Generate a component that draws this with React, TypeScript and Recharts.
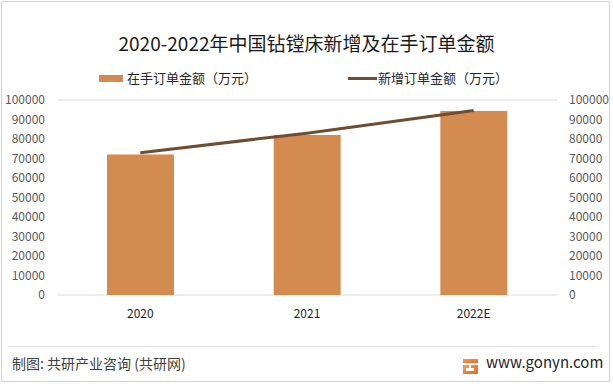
import { ComposedChart, Bar, Line, XAxis, YAxis, CartesianGrid } from "recharts";

const years = ["2020", "2021", "2022E"];
const backlog = [72000, 82000, 94300];
const newOrders = [73000, 83000, 94600];
const yTicks = [0, 10000, 20000, 30000, 40000, 50000, 60000, 70000, 80000, 90000, 100000];

const BAR_COLOR = "#D48B4F";
const LINE_COLOR = "#6E4E33";
const FONT = '"Noto Sans CJK SC", "Noto Sans", sans-serif';

const data = years.map((year, i) => ({
  year,
  backlog: backlog[i],
  newOrders: newOrders[i],
}));

const Logo = () => (
  <svg width={15} height={15} viewBox="0 0 15 15">
    <defs>
      <linearGradient id="lg" x1="0" y1="0" x2="1" y2="1">
        <stop offset="0" stopColor="#F6A04A" />
        <stop offset="1" stopColor="#E8622F" />
      </linearGradient>
    </defs>
    <rect x={0} y={0} width={15} height={4} fill="url(#lg)" />
    <path d="M0 6 H6 V9 H3 V12 H11 V9 H8 V6 H15 V15 H0 Z" fill="url(#lg)" />
  </svg>
);

export default function App() {
  return (
    <div
      style={{
        position: "absolute",
        left: 0,
        top: 0,
        width: 613,
        height: 384,
        background: "#fff",
        fontFamily: FONT,
      }}
    >
      <div
        style={{
          position: "absolute",
          left: 1,
          top: 1,
          width: 607,
          height: 379,
          border: "1px solid #d4d4d4",
        }}
      />
      <div
        style={{
          position: "absolute",
          top: 30,
          left: 0,
          width: 613,
          textAlign: "center",
          fontSize: 19,
          lineHeight: "26px",
          color: "#1a1a1a",
        }}
      >
        2020-2022年中国钻镗床新增及在手订单金额
      </div>
      <div
        style={{
          position: "absolute",
          top: 69,
          left: 99,
          display: "flex",
          alignItems: "center",
          fontSize: 13,
          lineHeight: "18px",
          color: "#262626",
        }}
      >
        <span style={{ width: 24, height: 7, background: BAR_COLOR, marginRight: 4 }} />
        <span>在手订单金额（万元）</span>
      </div>
      <div
        style={{
          position: "absolute",
          top: 69,
          left: 348,
          display: "flex",
          alignItems: "center",
          fontSize: 13,
          lineHeight: "18px",
          color: "#262626",
        }}
      >
        <span style={{ width: 29, height: 3, background: LINE_COLOR, marginRight: 1 }} />
        <span>新增订单金额（万元）</span>
      </div>

      <div style={{ position: "absolute", left: 0, top: 0 }}>
        <ComposedChart
          width={613}
          height={384}
          data={data}
          margin={{ top: 100, right: 0, left: 0, bottom: 59 }}
        >
          <CartesianGrid vertical={false} stroke="#d9d9d9" />
          <XAxis
            dataKey="year"
            axisLine={false}
            tickLine={false}
            tickMargin={8}
            height={30}
            tick={{ fontSize: 12, fill: "#262626", fontFamily: FONT }}
          />
          <YAxis
            yAxisId="left"
            domain={[0, 100000]}
            ticks={yTicks}
            interval={0}
            width={57}
            axisLine={false}
            tickLine={false}
            tickMargin={6}
            tick={{ fontSize: 12, fill: "#595959", fontFamily: FONT }}
          />
          <YAxis
            yAxisId="right"
            orientation="right"
            domain={[0, 100000]}
            ticks={yTicks}
            interval={0}
            width={56}
            axisLine={false}
            tickLine={false}
            tickMargin={6}
            tick={{ fontSize: 12, fill: "#595959", fontFamily: FONT, textAnchor: "start" }}
          />
          <Bar
            yAxisId="left"
            dataKey="backlog"
            fill={BAR_COLOR}
            barSize={67}
            isAnimationActive={false}
          />
          <Line
            yAxisId="right"
            type="linear"
            dataKey="newOrders"
            stroke={LINE_COLOR}
            strokeWidth={3}
            dot={false}
            isAnimationActive={false}
          />
        </ComposedChart>
      </div>

      <div
        style={{
          position: "absolute",
          left: 8,
          top: 346,
          width: 588,
          height: 1,
          background: "#e0e0e0",
        }}
      />
      <div
        style={{
          position: "absolute",
          left: 12,
          top: 353,
          fontSize: 14,
          lineHeight: "20px",
          color: "#404040",
        }}
      >
        制图: 共研产业咨询 (共研网)
      </div>
      <div style={{ position: "absolute", left: 463, top: 355 }}>
        <Logo />
      </div>
      <div
        style={{
          position: "absolute",
          left: 486,
          top: 352,
          fontSize: 15,
          lineHeight: "20px",
          color: "#262626",
        }}
      >
        www.gonyn.com
      </div>
    </div>
  );
}
